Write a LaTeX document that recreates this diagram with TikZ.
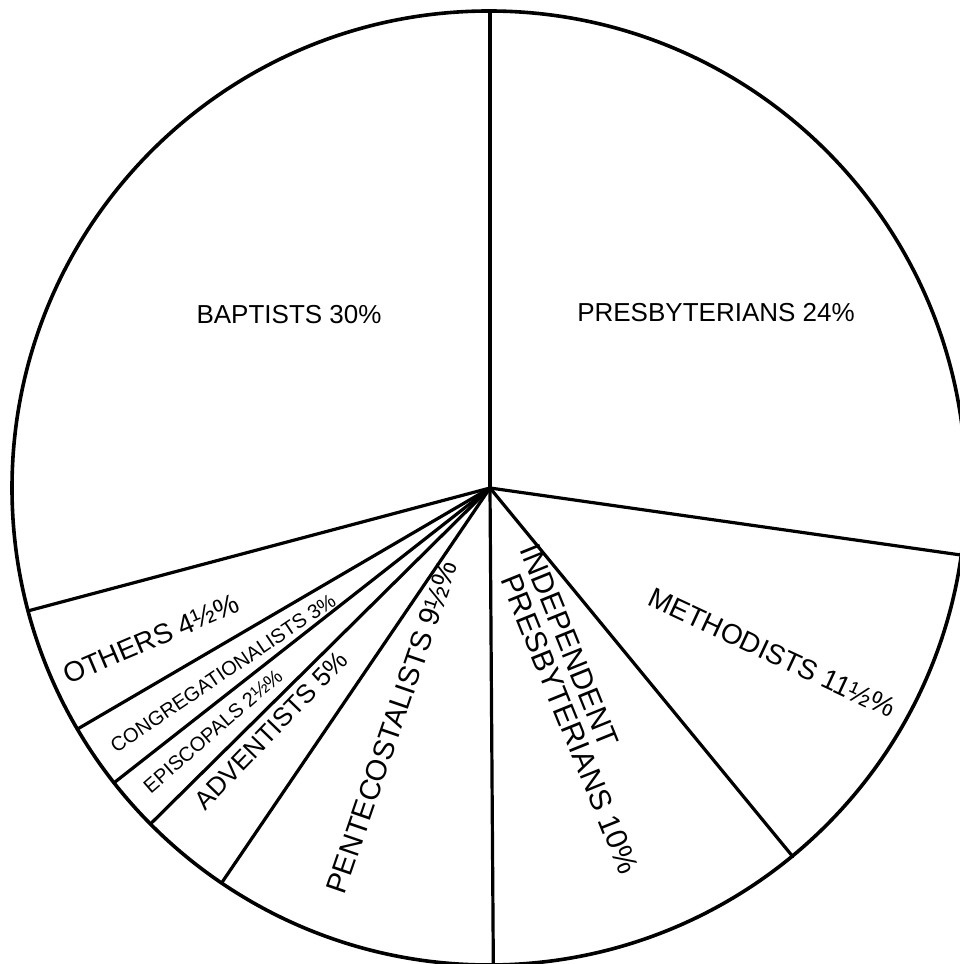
\documentclass[tikz,border=0pt]{standalone}
\usepackage{fontspec}
\setmainfont{Liberation Sans}

\begin{document}
\begin{tikzpicture}[
    x=1pt, y=1pt,
    rim/.style={line width=3.6pt},
    spoke/.style={line width=3.2pt, line cap=round},
    bigtag/.style={font=\fontsize{26}{29}\selectfont, inner sep=0pt},
    tilttag/.style={font=\fontsize{28}{31}\selectfont, inner sep=0pt},
    smalltag/.style={font=\fontsize{20}{23}\selectfont, inner sep=0pt}
]
  \useasboundingbox (0,0) rectangle (959,964);

  % outline of the pie
  \coordinate (hub) at (490,476);
  \draw[rim] (489,476) circle (477);

  % spokes between the slices
  \foreach \a [count=\i] in {90,-8.1,-50.6,-89.6,235.8,224.7,218.1,210.3,194.9}
  \draw[spoke] (hub) -- ++(\a:477) coordinate (edge-\i);

  % slice labels
  \node[bigtag] (baptists) at (289,649) {BAPTISTS 30\%};
  \node[bigtag] (presb) at (716,651) {PRESBYTERIANS 24\%};
  \node[tilttag, rotate=-25] (methodists) at (772,311) {METHODISTS 11½\%};
  \node[tilttag, font=\fontsize{30}{29}\selectfont, rotate=-68, align=left, anchor=north west] (indep) at (539,422) {INDEPENDENT\\\hspace*{20pt}PRESBYTERIANS 10\%};
  \node[tilttag, font=\fontsize{29}{31}\selectfont, rotate=71] (pente) at (392,237) {PENTECOSTALISTS 9½\%};
  \node[bigtag, rotate=46] (advent) at (271,234) {ADVENTISTS 5\%};
  \node[smalltag, rotate=41] (episc) at (213,233) {EPISCOPALS 2½\%};
  \node[smalltag, rotate=34] (congr) at (223,291) {CONGREGATIONALISTS 3\%};
  \node[tilttag, rotate=23] (others) at (151,325) {OTHERS 4½\%};

\end{tikzpicture}
\end{document}
